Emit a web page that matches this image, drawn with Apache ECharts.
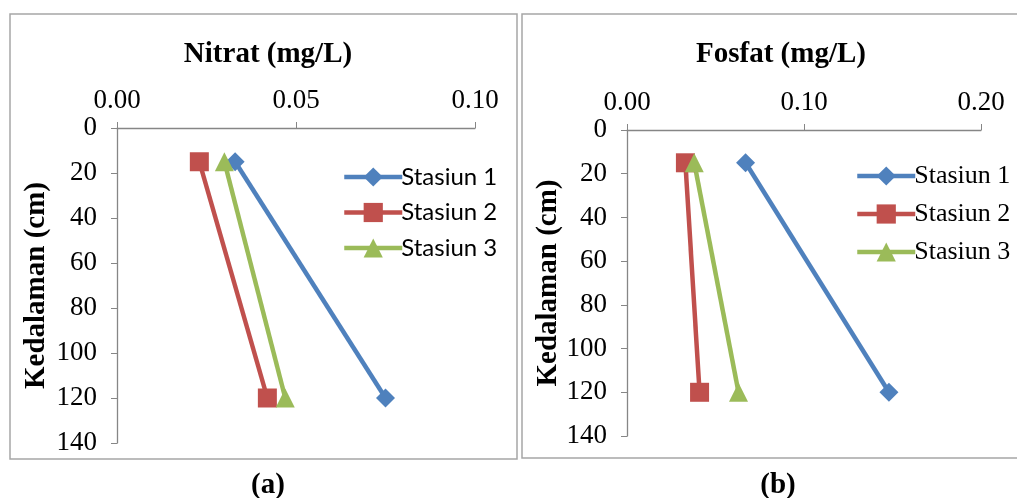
<!DOCTYPE html>
<html>
<head>
<meta charset="UTF-8">
<title>Nitrat dan Fosfat</title>
<script src="https://cdn.jsdelivr.net/npm/echarts@6/dist/echarts.min.js"></script>
<style>
  html, body { margin: 0; padding: 0; background: #fff; }
  #chart { width: 1017px; height: 498px; }
</style>
</head>
<body>
<div id="chart"></div>
<script>
// kedalaman (cm)
const depths = [15, 120];
const stations = ['Stasiun 1', 'Stasiun 2', 'Stasiun 3'];
// nitrat (mg/L) per stasiun
const nitrat1 = [0.033, 0.075];
const nitrat2 = [0.023, 0.042];
const nitrat3 = [0.030, 0.047];
// fosfat (mg/L) per stasiun
const fosfat1 = [0.067, 0.148];
const fosfat2 = [0.033, 0.041];
const fosfat3 = [0.038, 0.063];

const colors = ['#4F81BD', '#C0504D', '#9BBB59'];
const symbols = ['diamond', 'rect', 'triangle'];
const symbolSizes = [19, 19, 19];
const serif = 'Liberation Serif';
const axisGray = '#868686';

function pairs(vals) {
    return vals.map((v, i) => [v, depths[i]]);
}

// suffix keeps the two panels' legends apart
function makeSeries(list, idx, suffix) {
    return list.map((vals, i) => ({
        name: stations[i] + suffix,
        type: 'line',
        xAxisIndex: idx,
        yAxisIndex: idx,
        data: pairs(vals),
        symbol: symbols[i],
        symbolSize: symbolSizes[i],
        lineStyle: { width: 4.5, color: colors[i] },
        itemStyle: { color: colors[i] }
    }));
}

function xAxisCfg(idx, max, interval) {
    return {
        type: 'value', gridIndex: idx, position: 'top',
        min: 0, max: max, interval: interval,
        axisLine: { show: true, lineStyle: { color: axisGray, width: 1.3 } },
        axisTick: { show: true, length: 6, lineStyle: { color: axisGray } },
        splitLine: { show: false },
        axisLabel: { color: '#000', fontFamily: serif, fontSize: 27, margin: 14,
                     formatter: v => v.toFixed(2) }
    };
}

function yAxisCfg(idx, gap) {
    return {
        type: 'value', gridIndex: idx, inverse: true,
        min: 0, max: 140, interval: 20,
        axisLine: { show: true, lineStyle: { color: axisGray, width: 1.3 } },
        axisTick: { show: true, length: 6, lineStyle: { color: axisGray } },
        splitLine: { show: false },
        axisLabel: { color: '#000', fontFamily: serif, fontSize: 27, margin: 20 },
        name: 'Kedalaman (cm)', nameLocation: 'middle', nameRotate: 90, nameGap: gap,
        nameTextStyle: { color: '#000', fontFamily: serif, fontSize: 29, fontWeight: 'bold' }
    };
}

const titleStyle = { fontFamily: serif, fontSize: 29, fontWeight: 'bold', color: '#000' };
const sansLegend = { fontFamily: 'Lato', fontSize: 24, color: '#000', padding: [0, 0, 0, -6] };
const serifLegend = { fontFamily: serif, fontSize: 26, color: '#000', padding: [0, 0, 0, -6] };

const chart = echarts.init(document.getElementById('chart'));
chart.setOption({
    backgroundColor: '#fff',
    animation: false,
    title: [
        { text: 'Nitrat (mg/L)', left: 263, top: 35, textAlign: 'center', textStyle: titleStyle },
        { text: 'Fosfat (mg/L)', left: 776, top: 35, textAlign: 'center', textStyle: titleStyle },
        { text: '(a)', left: 263, top: 466, textAlign: 'center', textStyle: titleStyle },
        { text: '(b)', left: 773, top: 466, textAlign: 'center', textStyle: titleStyle }
    ],
    grid: [
        { left: 117, top: 128, width: 358, height: 315 },
        { left: 627, top: 130, width: 354, height: 306 }
    ],
    xAxis: [xAxisCfg(0, 0.1, 0.05), xAxisCfg(1, 0.2, 0.1)],
    yAxis: [yAxisCfg(0, 66), yAxisCfg(1, 64)],
    legend: [
        { data: stations.map(s => ({ name: s, textStyle: sansLegend })),
          orient: 'vertical', left: 337, top: 160, itemWidth: 58, itemHeight: 24, itemGap: 11.5,
          lineStyle: { width: 4.5 }, textStyle: sansLegend },
        { data: stations.map(s => ({ name: s + ' ', textStyle: serifLegend })),
          orient: 'vertical', left: 850, top: 158, itemWidth: 58, itemHeight: 24, itemGap: 12,
          lineStyle: { width: 4.5 }, textStyle: serifLegend,
          formatter: n => n.trim() }
    ],
    series: makeSeries([nitrat1, nitrat2, nitrat3], 0, '')
        .concat(makeSeries([fosfat1, fosfat2, fosfat3], 1, ' ')),
    graphic: [
        { type: 'rect', shape: { x: 10, y: 14, width: 507, height: 445 },
          style: { fill: 'none', stroke: '#a6a6a6', lineWidth: 1.5 }, z: -1 },
        { type: 'rect', shape: { x: 522, y: 14, width: 510, height: 444 },
          style: { fill: 'none', stroke: '#a6a6a6', lineWidth: 1.5 }, z: -1 }
    ]
});
</script>
</body>
</html>
